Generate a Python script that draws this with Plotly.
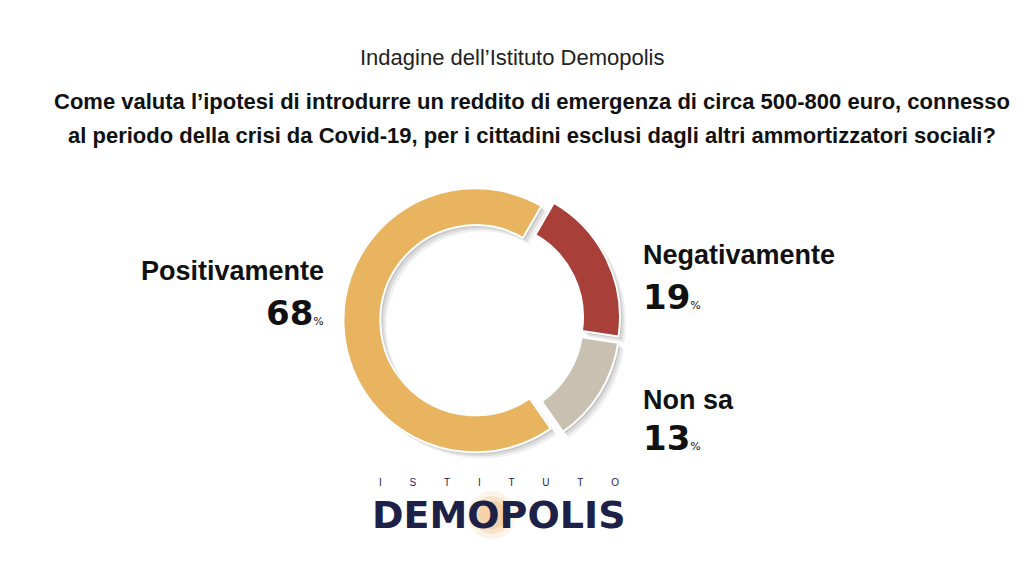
import plotly.graph_objects as go

labels = ["Negativamente", "Non sa", "Positivamente"]
values = [19, 13, 68]
colors = ["#A83F38", "#C8C1B2", "#E9B45F"]

title_line = "Indagine dell\u2019Istituto Demopolis"
question_1 = "Come valuta l\u2019ipotesi di introdurre un reddito di emergenza di circa 500-800 euro, connesso"
question_2 = "al periodo della crisi da Covid-19, per i cittadini esclusi dagli altri ammortizzatori sociali?"

W, H = 1024, 576
cx, cy, R = 482, 320, 132
pull = 0.05
half = R * (1 + pull)


def dom(dx=0, dy=0):
    return dict(x=[(cx + dx - half) / W, (cx + dx + half) / W],
                y=[1 - (cy + dy + half) / H, 1 - (cy + dy - half) / H])


fig = go.Figure()
# soft shadow layers
for off, alpha in [(6, 0.06), (4, 0.08), (2, 0.10)]:
    fig.add_trace(go.Pie(
        labels=labels, values=values, sort=False, direction="clockwise",
        rotation=30, hole=0.72, pull=[pull] * 3,
        marker=dict(colors=[f"rgba(0,0,0,{alpha})"] * 3, line=dict(width=0)),
        textinfo="none", hoverinfo="skip", showlegend=False, domain=dom(off, off)))

fig.add_trace(go.Pie(
    labels=labels, values=values, sort=False, direction="clockwise",
    rotation=30, hole=0.72, pull=[pull] * 3,
    marker=dict(colors=colors, line=dict(color="white", width=2)),
    textinfo="none", showlegend=False, domain=dom()))

ann = []


def add(text, x, y, size, xanchor="center", family="Liberation Sans, Arial, sans-serif",
        color="#111", yanchor="middle"):
    ann.append(dict(text=text, x=x / W, y=1 - y / H, xref="paper", yref="paper",
                    showarrow=False, xanchor=xanchor, yanchor=yanchor,
                    font=dict(size=size, family=family, color=color)))


add(title_line, 512, 57, 22, family="Liberation Sans, Arial, sans-serif", color="#222")
add("<b>" + question_1 + "</b>", 532, 101, 22)
add("<b>" + question_2 + "</b>", 532, 135, 22)

big = "DejaVu Sans, sans-serif"
pct = "<span style='font-size:11px;font-weight:normal'>%</span>"
add("<b>Positivamente</b>", 326, 271, 27, xanchor="right")
add("<b>68</b>" + pct, 326, 313, 34, xanchor="right", family=big)
add("<b>Negativamente</b>", 641, 255, 27, xanchor="left")
add("<b>19</b>" + pct, 641, 297, 34, xanchor="left", family=big)
add("<b>Non sa</b>", 641, 400, 27, xanchor="left")
add("<b>13</b>" + pct, 641, 438, 34, xanchor="left", family=big)

# logo
sp = "&nbsp;" * 10
add(sp.join(list("ISTITUTO")), 499, 490, 10, family="Liberation Sans, Arial, sans-serif",
    color="#1E2147", yanchor="bottom")
add("<b>DEMOPOLIS</b>", 499, 491, 38, family=big, color="#1E2147", yanchor="top")

shapes = []
# glow behind the O of the logo
for r, a in [(24, 0.12), (19, 0.18), (14, 0.25)]:
    shapes.append(dict(type="circle", xref="paper", yref="paper",
                       x0=(492 - r) / W, x1=(492 + r) / W,
                       y0=1 - (515 + r) / H, y1=1 - (515 - r) / H,
                       fillcolor=f"rgba(232,160,70,{a})", line=dict(width=0), layer="below"))

fig.update_layout(width=W, height=H, margin=dict(l=0, r=0, t=0, b=0),
                  paper_bgcolor="white", plot_bgcolor="white",
                  annotations=ann, shapes=shapes)
fig.write_html("out.html")
